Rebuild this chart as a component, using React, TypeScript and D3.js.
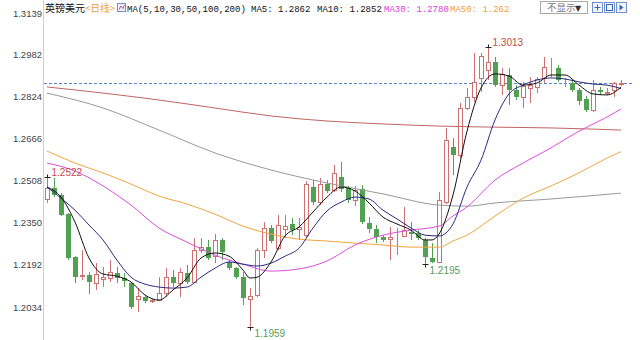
import React from "react";
import * as d3 from "d3";

const tickLabels = ["1.3139", "1.2982", "1.2824", "1.2666", "1.2508", "1.2350", "1.2192", "1.2034"];

const opens = [
  1.2440, 1.2481, 1.2455, 1.2383, 1.2222, 1.2150, 1.2154, 1.2124, 1.2139, 1.2143,
  1.2161, 1.2143, 1.2124, 1.2064, 1.2071, 1.2056, 1.2060, 1.2086, 1.2146, 1.2124,
  1.2161, 1.2128, 1.2248, 1.2259, 1.2225, 1.2286, 1.2203, 1.2180, 1.2146, 1.2064,
  1.2079, 1.2248, 1.2331, 1.2255, 1.2327, 1.2346, 1.2327, 1.2304, 1.2485, 1.2428,
  1.2496, 1.2474, 1.2523, 1.2481, 1.2436, 1.2477, 1.2350, 1.2327, 1.2297, 1.2289,
  1.2299, 1.2301, 1.2316, 1.2312, 1.2286, 1.2218, 1.2203, 1.2428, 1.2635, 1.2605,
  1.2782, 1.2823, 1.2895, 1.2925, 1.2955, 1.2868, 1.2906, 1.2850, 1.2823, 1.2857,
  1.2861, 1.2895, 1.2938, 1.2932, 1.2878, 1.2876, 1.2850, 1.2816, 1.2774, 1.2850,
  1.2840, 1.2850, 1.2874,
];
const highs = [
  1.2522, 1.2519, 1.2462, 1.2387, 1.2225, 1.2248, 1.2165, 1.2199, 1.2184, 1.2210,
  1.2184, 1.2161, 1.2128, 1.2105, 1.2079, 1.2064, 1.2146, 1.2180, 1.2173, 1.2180,
  1.2192, 1.2293, 1.2293, 1.2286, 1.2308, 1.2293, 1.2210, 1.2184, 1.2165, 1.2105,
  1.2255, 1.2353, 1.2342, 1.2380, 1.2380, 1.2368, 1.2368, 1.2507, 1.2511, 1.2519,
  1.2511, 1.2568, 1.2579, 1.2489, 1.2489, 1.2492, 1.2372, 1.2342, 1.2304, 1.2335,
  1.2331, 1.2410, 1.2353, 1.2323, 1.2293, 1.2274, 1.2466, 1.2707, 1.2669, 1.2801,
  1.2857, 1.2989, 1.2989, 1.3013, 1.2974, 1.2932, 1.2932, 1.2868, 1.2880, 1.2898,
  1.2898, 1.2974, 1.2970, 1.2944, 1.2895, 1.2887, 1.2857, 1.2827, 1.2887, 1.2861,
  1.2857, 1.2880, 1.2887,
];
const lows = [
  1.2425, 1.2447, 1.2376, 1.2210, 1.2124, 1.2135, 1.2083, 1.2098, 1.2109, 1.2128,
  1.2124, 1.2109, 1.2026, 1.2015, 1.2049, 1.2049, 1.2056, 1.2071, 1.2109, 1.2071,
  1.2120, 1.2124, 1.2237, 1.2210, 1.2199, 1.2210, 1.2173, 1.2139, 1.2041, 1.1959,
  1.2071, 1.2218, 1.2274, 1.2248, 1.2293, 1.2304, 1.2286, 1.2293, 1.2417, 1.2417,
  1.2462, 1.2466, 1.2466, 1.2425, 1.2413, 1.2346, 1.2312, 1.2274, 1.2278, 1.2210,
  1.2229, 1.2297, 1.2286, 1.2286, 1.2195, 1.2199, 1.2199, 1.2421, 1.2530, 1.2594,
  1.2774, 1.2804, 1.2842, 1.2887, 1.2861, 1.2831, 1.2793, 1.2812, 1.2782, 1.2801,
  1.2838, 1.2876, 1.2898, 1.2880, 1.2861, 1.2842, 1.2793, 1.2767, 1.2767, 1.2831,
  1.2831, 1.2823, 1.2865,
];
const closes = [
  1.2481, 1.2455, 1.2380, 1.2218, 1.2146, 1.2154, 1.2128, 1.2158, 1.2146, 1.2165,
  1.2143, 1.2131, 1.2034, 1.2075, 1.2056, 1.2060, 1.2086, 1.2146, 1.2124, 1.2165,
  1.2128, 1.2248, 1.2259, 1.2218, 1.2286, 1.2240, 1.2180, 1.2146, 1.2068, 1.2075,
  1.2248, 1.2331, 1.2282, 1.2342, 1.2338, 1.2323, 1.2335, 1.2496, 1.2428, 1.2496,
  1.2470, 1.2538, 1.2477, 1.2436, 1.2474, 1.2353, 1.2327, 1.2297, 1.2286, 1.2297,
  1.2301, 1.2323, 1.2308, 1.2293, 1.2222, 1.2203, 1.2436, 1.2662, 1.2605, 1.2782,
  1.2823, 1.2880, 1.2977, 1.2955, 1.2868, 1.2910, 1.2850, 1.2823, 1.2865, 1.2868,
  1.2891, 1.2936, 1.2940, 1.2887, 1.2880, 1.2850, 1.2808, 1.2774, 1.2850, 1.2842,
  1.2842, 1.2876, 1.2876,
];

const ma5Days = [0, 2, 4, 6, 8, 10, 12, 14, 16, 18, 20, 22, 24, 26, 28, 29, 30, 32, 34, 36, 38, 40, 42, 44, 46, 48, 50, 52, 54, 55, 56, 58, 60, 62, 64, 66, 68, 70, 72, 74, 76, 78, 80, 82];
const ma5 = [1.2485, 1.2447, 1.2353, 1.2218, 1.2158, 1.2150, 1.2128, 1.2079, 1.2060, 1.2098, 1.2143, 1.2218, 1.2237, 1.2225, 1.2173, 1.2143, 1.2146, 1.2203, 1.2301, 1.2335, 1.2391, 1.2447, 1.2485, 1.2470, 1.2425, 1.2372, 1.2346, 1.2323, 1.2286, 1.2286, 1.2308, 1.2455, 1.2695, 1.2857, 1.2910, 1.2902, 1.2868, 1.2876, 1.2906, 1.2906, 1.2868, 1.2835, 1.2831, 1.2860];

const ma10Days = [0, 2, 4, 6, 8, 10, 12, 14, 16, 18, 20, 22, 24, 26, 28, 30, 32, 34, 36, 38, 40, 42, 44, 46, 48, 50, 52, 54, 56, 58, 60, 62, 64, 66, 68, 70, 72, 74, 76, 78, 80, 82];
const ma10 = [1.2485, 1.2443, 1.2398, 1.2342, 1.2286, 1.2210, 1.2146, 1.2120, 1.2109, 1.2105, 1.2109, 1.2146, 1.2180, 1.2203, 1.2195, 1.2188, 1.2199, 1.2225, 1.2255, 1.2331, 1.2395, 1.2428, 1.2447, 1.2440, 1.2398, 1.2365, 1.2331, 1.2304, 1.2301, 1.2346, 1.2485, 1.2586, 1.2737, 1.2835, 1.2868, 1.2887, 1.2895, 1.2891, 1.2880, 1.2872, 1.2868, 1.2855];

const ma30Days = [0, 4, 8, 12, 16, 20, 24, 28, 32, 36, 40, 44, 48, 52, 56, 58, 60, 64, 68, 72, 76, 80, 82];
const ma30 = [1.2575, 1.2545, 1.2489, 1.2417, 1.2331, 1.2278, 1.2229, 1.2195, 1.2169, 1.2177, 1.2207, 1.2267, 1.2304, 1.2323, 1.2338, 1.2376, 1.2410, 1.2511, 1.2575, 1.2632, 1.2695, 1.2748, 1.2778];

const ma50Days = [0, 4, 8, 12, 16, 20, 24, 28, 32, 36, 40, 44, 48, 52, 56, 58, 60, 64, 68, 72, 76, 80, 82];
const ma50 = [1.2620, 1.2575, 1.2538, 1.2496, 1.2451, 1.2421, 1.2383, 1.2338, 1.2308, 1.2289, 1.2282, 1.2274, 1.2267, 1.2259, 1.2259, 1.2282, 1.2304, 1.2376, 1.2443, 1.2489, 1.2538, 1.2594, 1.2618];

const ma100Days = [0, 8, 16, 24, 32, 40, 48, 56, 60, 64, 72, 82];
const ma100 = [1.2838, 1.2782, 1.2699, 1.2613, 1.2549, 1.2500, 1.2459, 1.2417, 1.2413, 1.2425, 1.2440, 1.2462];

const ma200Days = [0, 8, 16, 24, 32, 40, 48, 56, 64, 72, 82];
const ma200 = [1.2861, 1.2838, 1.2812, 1.2782, 1.2752, 1.2733, 1.2722, 1.2714, 1.2710, 1.2707, 1.2699];

const highMarks = [0, 63];
const lowMarks = [29, 54];

const legendItems = [
  { text: "MA5: 1.2862", color: "#111" },
  { text: "MA10: 1.2852", color: "#111" },
  { text: "MA30: 1.2780", color: "#e040e0" },
  { text: "MA50: 1.262", color: "#f0a040" },
];

const UP = "#cc7070";
const DOWN = "#52a052";

export default function App() {
  const n = opens.length;
  const x = d3.scaleBand<number>().domain(d3.range(n)).range([43.5, 624.5]).padding(0);
  const cx = (i: number) => (x(i) as number) + x.bandwidth() / 2;
  const y = d3
    .scaleLinear()
    .domain([+tickLabels[0], +tickLabels[tickLabels.length - 1]])
    .range([13, 307]);

  const mkLine = (days: number[], vals: number[]) =>
    d3
      .line<number>()
      .x((_, k) => cx(days[k]))
      .y((v) => y(v))
      .curve(d3.curveMonotoneX)(vals) || "";

  const maDefs = [
    { days: ma200Days, vals: ma200, color: "#c06464" },
    { days: ma100Days, vals: ma100, color: "#9a9a9a" },
    { days: ma50Days, vals: ma50, color: "#f2a541" },
    { days: ma30Days, vals: ma30, color: "#dc4fdc" },
    { days: ma10Days, vals: ma10, color: "#2a2a80" },
    { days: ma5Days, vals: ma5, color: "#111111" },
  ];

  const lastY = Math.round(y(closes[n - 1])) + 0.5;
  const legendX = [251, 317, 384, 450];
  const mono = "'Liberation Mono', 'DejaVu Sans Mono', monospace";

  return (
    <svg width={640} height={340} style={{ display: "block", background: "#fff" }}>
      <style>{`body{margin:0}`}</style>
      <rect x={0} y={0} width={640} height={340} fill="#fff" />
      <line x1={43.5} x2={43.5} y1={0} y2={340} stroke="#cfcfcf" />
      {tickLabels.map((t) => (
        <text
          key={t}
          x={42}
          y={y(+t) + 3.5}
          textAnchor="end"
          fontFamily="'Liberation Sans', Arial, sans-serif"
          fontSize={9.5}
          fill="#444"
        >
          {t}
        </text>
      ))}
      <line x1={44} x2={632} y1={lastY} y2={lastY} stroke="#5a86cc" strokeDasharray="3,2" />
      {opens.map((o, i) => {
        const c = closes[i];
        const f = Math.floor(cx(i));
        const up = c >= o;
        const col = up ? UP : DOWN;
        const yo = Math.round(y(o));
        const yc = Math.round(y(c));
        return (
          <g key={i}>
            <line x1={f + 0.5} x2={f + 0.5} y1={y(highs[i])} y2={y(lows[i])} stroke={col} />
            {up ? (
              <rect x={f - 1.5} y={yc + 0.5} width={4} height={Math.max(0, yo - yc)} fill="#fff" stroke={col} />
            ) : (
              <rect x={f - 2} y={yo} width={5} height={Math.max(1, yc - yo)} fill={col} />
            )}
          </g>
        );
      })}
      {maDefs.map((m, k) => (
        <path key={k} d={mkLine(m.days, m.vals)} fill="none" stroke={m.color} strokeWidth={1} />
      ))}
      {highMarks.map((i) => {
        const f = Math.floor(cx(i)) + 0.5;
        const yy = Math.round(y(highs[i])) + 0.5;
        return (
          <g key={"h" + i}>
            <line x1={f - 3} x2={f + 3} y1={yy} y2={yy} stroke="#222" />
            <line x1={f} x2={f} y1={yy - 3} y2={yy} stroke="#222" />
            <text x={f + 4} y={yy - 2} fontFamily="'Liberation Sans', Arial, sans-serif" fontSize={10} fill="#c84848">
              {highs[i].toFixed(4)}
            </text>
          </g>
        );
      })}
      {lowMarks.map((i) => {
        const f = Math.floor(cx(i)) + 0.5;
        const yy = Math.round(y(lows[i])) + 0.5;
        return (
          <g key={"l" + i}>
            <line x1={f - 3} x2={f + 3} y1={yy} y2={yy} stroke="#222" />
            <line x1={f} x2={f} y1={yy} y2={yy + 3} stroke="#222" />
            <text x={f + 4} y={yy + 9} fontFamily="'Liberation Sans', Arial, sans-serif" fontSize={10} fill="#5a9a5a">
              {lows[i].toFixed(4)}
            </text>
          </g>
        );
      })}
      <text x={45} y={12} fontFamily="'Noto Sans CJK SC', sans-serif" fontSize={10} fill="#111">
        英镑美元
      </text>
      <text x={85} y={12} fontFamily="'Noto Sans CJK SC', sans-serif" fontSize={10} fill="#f0a040" textLength={30} lengthAdjust="spacingAndGlyphs">
        {"<日线>"}
      </text>
      <rect x={117.5} y={3.5} width={8} height={8} fill="#eef0ff" stroke="#7a8ccc" />
      <path d="M119 9.5 L121 6 L123 8.5 L124.5 5" fill="none" stroke="#d050a0" />
      <text x={127} y={12} fontFamily={mono} fontSize={9} fill="#111">
        MA(5,10,30,50,100,200)
      </text>
      {legendItems.map((it, k) => (
        <text key={it.text} x={legendX[k]} y={12} fontFamily={mono} fontSize={9} fill={it.color}>
          {it.text}
        </text>
      ))}
      <rect x={540.5} y={1.5} width={47} height={12} fill="#fff" stroke="#a8a8a8" />
      <text x={547} y={11} fontFamily="'Noto Sans CJK SC', sans-serif" fontSize={9.5} fill="#777">
        不显示
      </text>
      <text x={575} y={11} fontFamily="'DejaVu Sans', sans-serif" fontSize={8} fill="#333">
        ▼
      </text>
      {[592.5, 604.5, 616.5].map((bx, k) => (
        <g key={bx}>
          <rect x={bx} y={2.5} width={10} height={10} fill="#f2f6ff" stroke="#6f8fcf" />
          {k === 0 && <path d={`M${bx + 5} 4.5 V10.5 M${bx + 2} 7.5 H${bx + 8}`} stroke="#3a66b0" />}
          {k === 1 && <rect x={bx + 2} y={4.5} width={6} height={6} fill="none" stroke="#3a66b0" />}
          {k === 2 && <path d={`M${bx + 3} 4.5 L${bx + 7} 7.5 L${bx + 3} 10.5 Z`} fill="#3a66b0" />}
        </g>
      ))}
    </svg>
  );
}
